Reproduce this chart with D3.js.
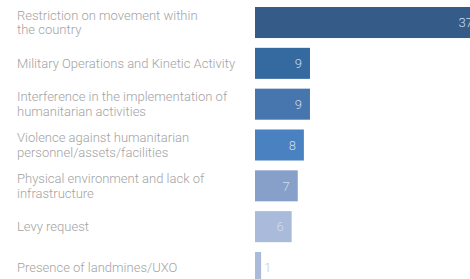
<!DOCTYPE html>
<html><head><meta charset="utf-8">
<script src="https://cdn.jsdelivr.net/npm/d3@7"></script>
<style>
html,body{margin:0;padding:0;background:#fff;overflow:hidden;}
svg{display:block;}
</style></head>
<body>
<svg id="chart" width="470" height="279"></svg>
<script>
const categories = [
  ["Restriction on movement within", "the country"],
  ["Military Operations and Kinetic Activity"],
  ["Interference in the implementation of", "humanitarian activities"],
  ["Violence against humanitarian", "personnel/assets/facilities"],
  ["Physical environment and lack of", "infrastructure"],
  ["Levy request"],
  ["Presence of landmines/UXO"]
];
const values = [37, 9, 9, 8, 7, 6, 1];
const colors = ["#355c89", "#346a9f", "#4775ad", "#4a81c1", "#86a0c9", "#aabada", "#aabada"];

const svg = d3.select("#chart");
const x = d3.scaleLinear().domain([0, 37]).range([255, 481]);
const y = d3.scaleBand().domain(d3.range(values.length)).range([7, 283]).paddingInner(0.24).paddingOuter(0);

const g = svg.append("g");
g.selectAll("rect").data(values).join("rect")
  .attr("x", x(0))
  .attr("y", (d, i) => y(i))
  .attr("width", d => x(d) - x(0))
  .attr("height", y.bandwidth())
  .attr("fill", (d, i) => colors[i]);

const inside = d => x(d) - x(0) > 20;
g.selectAll("text.val").data(values).join("text")
  .attr("class", "val")
  .attr("x", d => (inside(d) ? x(d) - 8 : x(d) + 3))
  .attr("y", (d, i) => y(i) + y.bandwidth() / 2)
  .attr("dy", "0.36em")
  .attr("text-anchor", d => (inside(d) ? "end" : "start"))
  .attr("font-family", "Roboto, sans-serif")
  .attr("font-weight", 300)
  .attr("font-size", 13)
  .attr("fill", d => (inside(d) ? "#d3dced" : "#c8c8c8"))
  .text(d => d);

const lineH = 14.5, capH = 9;
const labels = g.selectAll("text.lab").data(categories).join("text")
  .attr("class", "lab")
  .attr("x", 17)
  .attr("y", (d, i) => y(i) + y.bandwidth() / 2 - (capH + (d.length - 1) * lineH) / 2 + capH)
  .attr("font-family", "Roboto, sans-serif")
  .attr("font-weight", 300)
  .attr("font-size", 13)
  .attr("fill", "#a3a3a3");
labels.each(function(d) {
  const t = d3.select(this);
  d.forEach((line, k) => {
    t.append("tspan")
      .attr("x", 17)
      .attr("dy", k === 0 ? 0 : lineH)
      .text(line);
  });
});
</script>
</body></html>
